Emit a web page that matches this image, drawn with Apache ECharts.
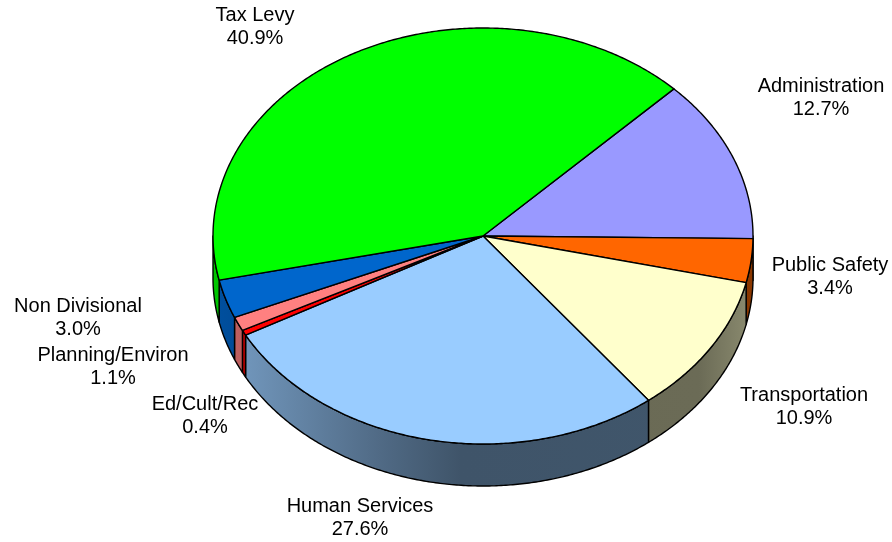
<!DOCTYPE html>
<html>
<head>
<meta charset="utf-8">
<script src="https://cdn.jsdelivr.net/npm/echarts@6/dist/echarts.min.js"></script>
<style>
  html, body { margin: 0; padding: 0; background: #fff; }
  #chart { width: 892px; height: 542px; }
</style>
</head>
<body>
<div id="chart"></div>
<script>
// Budget shares by division (percent of total)
const categories = ['Administration', 'Public Safety', 'Transportation', 'Human Services',
                    'Ed/Cult/Rec', 'Planning/Environ', 'Non Divisional', 'Tax Levy'];
const shares = [12.7, 3.4, 10.9, 27.6, 0.4, 1.1, 3.0, 40.9];

// Slice styling
const topColors = ['#9999ff', '#ff6600', '#ffffcc', '#99ccff', '#ff0000', '#ff8080', '#0066cc', '#00ff00'];

// Label anchor points (block centres, px)
const labelAnchors = [[821, 98], [830, 277], [804, 407], [360, 518],
                      [205, 416], [113, 367], [78, 318], [255, 27]];

// Pie layout
const CX = 483, CY = 236, RX = 270, RY = 208, DEPTH = 42;
const START_ANGLE = 45; // degrees, slices run clockwise

const total = shares.reduce((a, b) => a + b, 0);
const cum = [0];
shares.forEach((v, i) => cum.push(cum[i] + v));

function pt(aDeg, dy) {
  const a = aDeg * Math.PI / 180;
  return [CX + RX * Math.cos(a), CY - RY * Math.sin(a) + (dy || 0)];
}

function arc(from, to, dy) {
  const pts = [];
  const n = Math.max(2, Math.ceil(Math.abs(to - from) / 0.5));
  for (let k = 0; k <= n; k++) pts.push(pt(from + (to - from) * k / n, dy));
  return pts;
}

function shade(hex, f) {
  const n = parseInt(hex.slice(1), 16);
  const r = Math.round(((n >> 16) & 255) * f);
  const g = Math.round(((n >> 8) & 255) * f);
  const b = Math.round((n & 255) * f);
  return 'rgb(' + r + ',' + g + ',' + b + ')';
}

// Side wall lighting across the width of the pie
const wallStops = [[0, 0.78], [0.06, 0.73], [0.31, 0.52], [0.46, 0.41], [0.9, 0.42], [1, 0.55]];
function wallFill(hex) {
  return new echarts.graphic.LinearGradient(CX - RX, 0, CX + RX, 0,
    wallStops.map(s => ({ offset: s[0], color: shade(hex, s[1]) })), true);
}

function renderItem(params, api) {
  const i = params.dataIndex;
  const hi = START_ANGLE - cum[i] / total * 360;
  const lo = START_ANGLE - (cum[i] + api.value(0)) / total * 360;
  const children = [];

  // visible (front) wall segments: angles where sin < 0
  [[-540, -360], [-180, 0], [180, 360]].forEach(r => {
    const s = Math.max(lo, r[0]), e = Math.min(hi, r[1]);
    if (e > s) {
      const pts = arc(s, e, 0).concat(arc(e, s, DEPTH));
      children.push({
        type: 'polygon',
        shape: { points: pts },
        style: { fill: wallFill(topColors[i]), stroke: '#000', lineWidth: 1.4, lineJoin: 'round' }
      });
    }
  });

  // top face
  children.push({
    type: 'polygon',
    shape: { points: [[CX, CY]].concat(arc(lo, hi, 0)) },
    style: { fill: topColors[i], stroke: '#000', lineWidth: 1.4, lineJoin: 'round' }
  });

  // label
  const a = labelAnchors[i];
  children.push({
    type: 'text',
    x: a[0], y: a[1],
    style: {
      text: categories[i] + '\n' + api.value(0).toFixed(1) + '%',
      fill: '#000',
      font: '20px "Liberation Sans", Arial, sans-serif',
      align: 'center', verticalAlign: 'middle',
      textAlign: 'center', textVerticalAlign: 'middle',
      lineHeight: 23
    }
  });

  return { type: 'group', children: children };
}

const chart = echarts.init(document.getElementById('chart'), null, { renderer: 'canvas' });
chart.setOption({
  animation: false,
  backgroundColor: '#fff',
  series: [{
    type: 'custom',
    coordinateSystem: 'none',
    renderItem: renderItem,
    data: shares.map((v, i) => ({ name: categories[i], value: v }))
  }]
});
</script>
</body>
</html>
